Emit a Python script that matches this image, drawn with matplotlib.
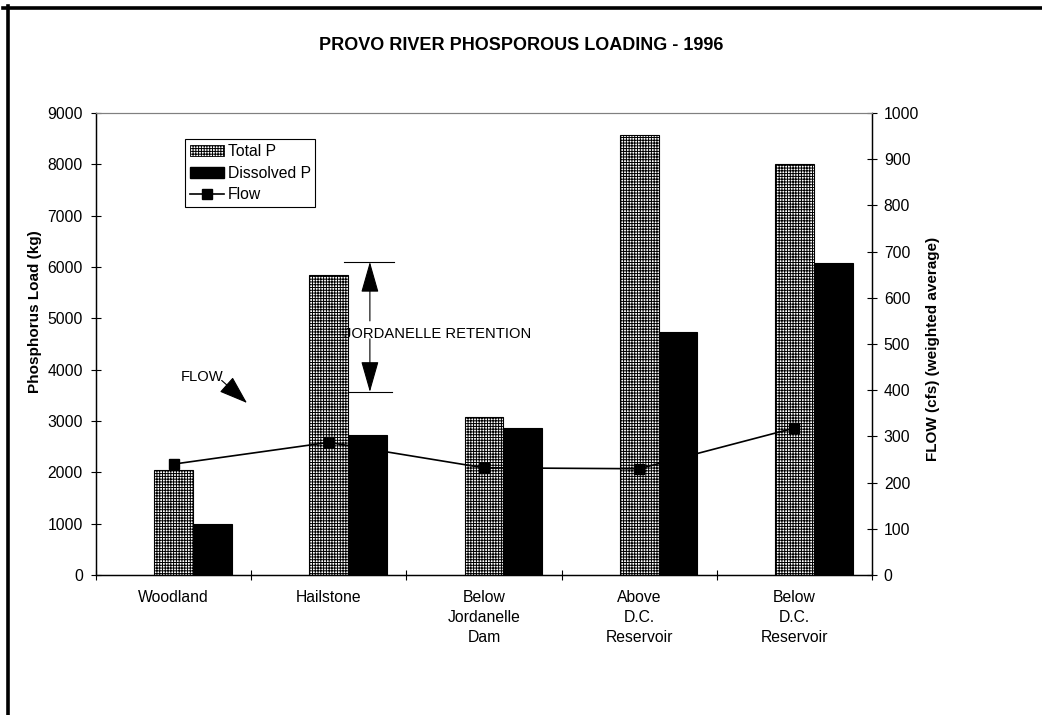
import numpy as np
import matplotlib
matplotlib.use("Agg")
import matplotlib.pyplot as plt
from matplotlib.lines import Line2D
from matplotlib.patches import Patch

plt.rcParams['font.family'] = ['Liberation Sans', 'DejaVu Sans']
plt.rcParams['hatch.linewidth'] = 0.7

# data
sites = ['Woodland', 'Hailstone', 'Below\nJordanelle\nDam', 'Above\nD.C.\nReservoir', 'Below\nD.C.\nReservoir']
total_p = [2040, 5850, 3070, 8570, 8000]
dissolved_p = [990, 2730, 2870, 4730, 6080]
flow = [240, 287, 232, 230, 318]

fs = 11.3
fig = plt.figure(figsize=(10.42, 7.15), dpi=100)
ax = fig.add_axes([0.0921, 0.1958, 0.7447, 0.6462])
ax2 = ax.twinx()

x = np.arange(len(sites))
w = 0.25
ax.bar(x, total_p, w, color='white', edgecolor='black', hatch='+' * 6, linewidth=0.8, zorder=2)
ax.bar(x + w, dissolved_p, w, color='black', edgecolor='black', linewidth=0.8, zorder=2)
ax2.plot(x, flow, color='black', lw=1.2, marker='s', ms=6.5, zorder=3)

ax.set_xlim(-0.5, len(sites) - 0.5)
ax.set_ylim(0, 9000)
ax2.set_ylim(0, 1000)
ax.set_yticks(np.arange(0, 9001, 1000))
ax2.set_yticks(np.arange(0, 1001, 100))

ax.set_xticks(np.arange(-0.5, len(sites), 1.0))
ax.set_xticklabels([])
ax.set_xticks(x, minor=True)
ax.set_xticklabels(sites, minor=True, fontsize=fs, linespacing=1.4)
ax.tick_params(axis='x', which='major', direction='inout', length=7, width=0.8)
ax.tick_params(axis='x', which='minor', length=0, pad=11)
ax.tick_params(axis='y', direction='inout', length=7, width=0.8, labelsize=fs, pad=6)
ax2.tick_params(axis='y', direction='inout', length=7, width=0.8, labelsize=fs, pad=5)

for a in (ax, ax2):
    for s in ('left', 'right', 'bottom'):
        a.spines[s].set_color('black')
        a.spines[s].set_linewidth(0.9)
    a.spines['top'].set_color('#808080')
    a.spines['top'].set_linewidth(0.8)

ax.set_ylabel('Phosphorus Load (kg)', fontsize=11, fontweight='bold')
ax.yaxis.set_label_coords(-0.07, 0.57)
ax2.set_ylabel('FLOW (cfs) (weighted average)', fontsize=11, fontweight='bold', rotation=90)
ax2.yaxis.set_label_coords(1.07, 0.49)

fig.text(0.5, 0.937, 'PROVO RIVER PHOSPOROUS LOADING - 1996', ha='center', va='center',
         fontsize=13, fontweight='bold')

# Jordanelle retention dimension
ax.plot([1.098, 1.42], [6100, 6100], color='black', lw=0.8, zorder=4)
ax.plot([1.125, 1.41], [3565, 3565], color='black', lw=0.8, zorder=4)
ax.annotate('', xy=(1.265, 6100), xytext=(1.265, 4950),
            arrowprops=dict(arrowstyle='-|>,head_length=1.4,head_width=0.4', color='black', lw=0.8,
                            shrinkA=0, shrinkB=0, mutation_scale=14))
ax.annotate('', xy=(1.265, 3565), xytext=(1.265, 4600),
            arrowprops=dict(arrowstyle='-|>,head_length=1.4,head_width=0.4', color='black', lw=0.8,
                            shrinkA=0, shrinkB=0, mutation_scale=14))
ax.text(1.098, 4700, 'JORDANELLE RETENTION', fontsize=10.6, ha='left', va='center', zorder=5)

# FLOW pointer
ax.text(0.048, 3860, 'FLOW', fontsize=10.6, ha='left', va='center')
ax.annotate('', xy=(0.473, 3351), xytext=(0.31, 3790),
            arrowprops=dict(arrowstyle='-|>,head_length=1.3,head_width=0.45', color='black', lw=0.8,
                            shrinkA=0, shrinkB=0, mutation_scale=14))

handles = [Patch(facecolor='white', edgecolor='black', hatch='+' * 6, linewidth=0.6),
           Patch(facecolor='black', edgecolor='black'),
           Line2D([], [], color='black', lw=1.2, marker='s', ms=6.5)]
leg = ax.legend(handles, ['Total P', 'Dissolved P', 'Flow'], loc='upper left',
                bbox_to_anchor=(0.115, 0.943), fontsize=fs, fancybox=False, framealpha=1,
                edgecolor='black', borderpad=0.3, handlelength=2.2, handletextpad=0.2,
                labelspacing=0.42, borderaxespad=0)
leg.get_frame().set_linewidth(0.8)
leg.set_zorder(10)

# outer frame (top and left edges)
fig.add_artist(Line2D([0.003, 1.0], [1 - 7.7 / 715, 1 - 7.7 / 715], color='black', lw=2.6,
                      transform=fig.transFigure))
fig.add_artist(Line2D([7.7 / 1042, 7.7 / 1042], [0.0, 1 - 6 / 715], color='black', lw=2.6,
                      transform=fig.transFigure))

fig.savefig('out.png', dpi=100)
